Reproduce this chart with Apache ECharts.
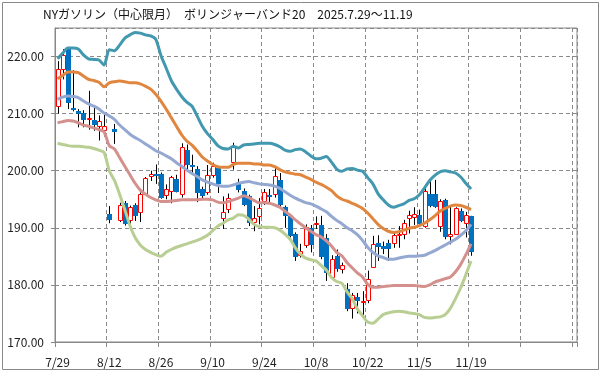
<!DOCTYPE html>
<html><head><meta charset="utf-8">
<script src="https://cdn.jsdelivr.net/npm/echarts@6/dist/echarts.min.js"></script>
<style>html,body{margin:0;padding:0;background:#fff}#c{width:599px;height:370px}</style>
</head><body><div id="c"></div>
<script>
const titleText = 'NYガソリン（中心限月）　ボリンジャーバンド20　2025.7.29～11.19';
const dates = ['7/29','7/30','7/31','8/1','8/4','8/5','8/6','8/7','8/8','8/11',
'8/12','8/13','8/14','8/15','8/18','8/19','8/20','8/21','8/22','8/25',
'8/26','8/27','8/28','8/29','9/2','9/3','9/4','9/5','9/8','9/9',
'9/10','9/11','9/12','9/15','9/16','9/17','9/18','9/19','9/22','9/23',
'9/24','9/25','9/26','9/29','9/30','10/1','10/2','10/3','10/6','10/7',
'10/8','10/9','10/10','10/13','10/14','10/15','10/16','10/17','10/20','10/21',
'10/22','10/23','10/24','10/27','10/28','10/29','10/30','10/31','11/3','11/4',
'11/5','11/6','11/7','11/10','11/11','11/12','11/13','11/14','11/17','11/18','11/19'];
const open = [211.3,217.9,221.3,211.0,210.5,210.1,209.0,208.9,207.8,207.2,192.5,207.3,191.3,194.4,191.4,194.0,192.7,196.0,199.0,199.4,199.5,195.8,196.4,198.6,195.9,203.7,201.0,200.3,196.8,196.3,199.3,200.4,191.8,193.3,201.5,197.8,196.5,195.6,191.0,192.0,194.7,195.7,195.9,198.3,193.6,192.1,188.9,185.2,187.0,189.9,190.6,190.5,188.3,181.3,185.1,182.7,179.2,175.9,177.8,177.0,177.3,183.2,187.4,186.9,187.4,187.4,188.7,189.0,191.8,191.9,192.2,190.3,195.9,195.9,190.3,194.9,188.5,189.0,193.0,190.8,192.1];
const close = [217.9,220.3,212.0,210.8,210.1,209.0,209.3,208.1,208.7,207.8,191.6,207.0,194.0,190.9,193.6,192.3,196.0,198.7,199.4,199.2,195.4,196.8,198.9,196.5,204.2,201.1,200.8,196.3,195.7,199.3,200.8,197.8,192.8,195.2,204.2,196.8,194.2,191.0,191.8,193.5,196.3,195.5,199.0,194.1,192.3,188.8,185.1,186.0,190.2,187.1,190.9,185.1,182.3,184.5,182.9,183.4,175.9,178.2,177.4,177.2,181.0,187.2,186.9,186.5,186.4,188.7,189.0,190.9,192.3,192.4,190.8,196.5,194.0,193.9,194.7,188.5,188.9,193.4,191.4,192.2,185.9];
const high = [219.2,221.3,221.6,217.6,210.8,210.6,214.0,211.5,209.7,209.9,193.8,208.2,194.4,194.7,193.9,194.3,196.2,198.9,200.0,201.1,199.7,197.6,199.1,199.3,204.8,204.6,202.8,200.8,197.2,201.0,201.4,200.6,195.5,196.0,204.9,198.6,196.9,195.8,193.8,195.2,196.8,196.8,200.6,199.6,193.9,192.4,189.2,187.2,190.6,190.5,192.0,192.1,188.9,185.2,186.2,183.9,180.3,178.6,178.6,178.9,182.5,188.6,188.7,187.6,187.9,189.4,190.3,191.4,193.0,193.6,193.2,197.4,198.7,198.4,195.0,195.1,193.8,193.6,193.4,192.8,192.1];
const low = [210.0,216.0,210.8,210.4,207.6,207.6,207.2,207.0,205.3,206.0,190.8,204.7,191.0,190.4,189.6,191.2,191.0,195.9,198.2,197.7,195.1,195.0,194.3,196.2,195.3,200.0,199.4,194.5,195.0,195.8,198.8,196.1,189.8,192.6,200.2,196.2,193.8,190.3,189.4,190.6,194.0,194.3,195.3,193.7,190.0,188.3,184.2,184.8,186.5,185.7,189.8,184.5,180.7,181.1,182.3,182.0,175.4,174.1,175.0,174.5,176.8,183.0,184.2,185.4,184.2,186.5,186.5,188.0,189.0,190.5,190.2,190.0,193.6,193.5,189.3,188.0,187.1,188.8,191.0,188.3,185.1];
const upper2 = [219.6,220.6,221.5,221.5,221.3,220.3,219.6,219.5,219.4,218.5,221.2,221.0,222.0,223.2,223.8,224.2,224.1,223.8,223.6,223.0,220.2,218.0,215.8,214.3,213.0,212.0,211.3,209.6,207.8,206.5,205.5,204.4,203.9,203.8,204.3,204.0,204.5,204.6,204.7,204.8,204.8,204.8,204.6,204.2,203.6,203.4,203.7,203.8,203.3,202.6,202.1,202.2,202.5,201.5,200.3,199.9,200.3,200.4,200.1,199.9,198.8,197.7,196.0,194.9,194.0,193.6,193.9,194.2,194.8,195.1,195.8,197.0,198.3,199.2,199.8,200.0,199.8,199.6,198.9,197.8,196.8];
const upper1 = [216.1,216.7,217.3,217.3,217.2,216.6,216.0,215.8,215.5,214.7,215.4,215.6,215.7,215.6,215.4,215.4,215.2,214.8,214.3,213.4,212.2,210.8,209.3,207.8,206.3,205.2,204.5,203.5,202.4,201.7,201.1,200.7,200.6,200.6,201.1,201.3,201.3,201.3,201.2,201.2,201.0,201.0,200.7,200.2,199.8,199.6,199.4,199.3,198.9,198.5,198.0,197.6,197.1,196.5,195.6,195.0,194.7,194.3,193.9,193.4,192.6,191.6,190.6,189.9,189.4,189.2,189.3,189.6,189.9,190.1,190.4,190.8,191.4,192.1,192.9,193.4,193.8,194.0,193.9,193.6,193.2];
const ma20 = [212.5,212.9,213.1,213.0,212.8,212.2,211.7,211.3,210.8,210.1,209.6,209.0,208.0,207.2,206.4,205.8,205.3,204.7,204.1,203.5,203.1,202.6,202.1,201.4,200.8,200.1,199.5,199.0,198.4,198.0,197.7,197.4,197.3,197.3,197.5,197.8,198.0,198.1,197.9,197.7,197.6,197.5,197.3,196.9,196.3,195.7,195.2,194.8,194.4,194.2,193.8,193.3,192.8,192.0,191.3,190.7,190.0,189.5,188.8,187.8,186.6,185.7,185.1,184.8,184.5,184.5,184.7,184.9,185.0,185.0,185.1,185.2,185.6,186.0,186.5,187.0,187.5,188.0,188.7,189.5,190.6];
const lower1 = [208.4,208.6,208.8,208.7,208.4,208.0,207.8,207.5,207.2,206.8,204.4,203.8,202.3,200.8,199.3,197.8,196.6,195.9,195.3,194.9,194.6,194.6,194.7,194.8,194.9,194.9,194.9,194.9,195.0,195.0,194.9,194.5,194.4,194.6,194.9,195.2,195.6,195.3,194.8,194.4,194.4,194.3,194.0,193.6,192.9,192.2,191.4,190.7,190.0,189.4,188.8,188.4,187.7,186.8,185.7,185.1,183.9,183.0,182.1,181.4,180.1,179.6,179.6,179.7,179.8,179.9,179.9,179.9,179.9,179.9,179.8,179.7,180.0,180.5,180.8,181.1,181.4,182.3,183.6,185.3,187.2];
const lower2 = [204.8,204.6,204.4,204.3,204.3,204.2,204.1,203.9,203.6,203.2,200.0,198.3,195.9,193.2,190.4,188.3,187.0,186.2,185.7,185.3,185.0,185.7,186.2,186.6,186.9,187.2,187.5,187.8,188.2,188.7,189.5,190.3,190.8,191.4,191.7,192.3,192.2,191.5,190.6,190.2,190.1,190.1,190.0,189.6,188.9,188.0,186.5,185.4,184.7,184.4,184.2,183.4,182.6,181.3,180.6,180.3,178.8,177.6,175.8,174.6,173.5,173.3,174.0,174.8,175.1,175.3,175.4,175.3,175.1,175.0,174.8,174.3,174.2,174.3,174.4,174.8,175.9,177.6,179.5,181.8,184.2];
const yMin = 170, yMax = 225, yStep = 10;
const totalSlots = 101;

const categories = dates.slice();
for (let k = dates.length; k < totalSlots; k++) categories.push('_' + k);

const candleData = open.map((o, i) => [i, o, close[i], low[i], high[i]]);

function renderCandle(params, api) {
  const i = api.value(0), o = api.value(1), c = api.value(2), l = api.value(3), h = api.value(4);
  const pH = api.coord([i, h]), pL = api.coord([i, l]);
  const pO = api.coord([i, o]), pC = api.coord([i, c]);
  const x = Math.round(pH[0]);
  const top = Math.round(Math.min(pO[1], pC[1]));
  const bot = Math.round(Math.max(pO[1], pC[1]));
  const children = [{
    type: 'line',
    shape: { x1: x + 0.5, y1: pH[1], x2: x + 0.5, y2: pL[1] },
    style: { stroke: '#000', lineWidth: 1 }
  }];
  if (c >= o) {
    children.push({ type: 'rect', shape: { x: x - 1.5, y: top + 0.5, width: 4, height: Math.max(1, bot - top) },
      style: { fill: '#fff', stroke: '#FF0000', lineWidth: 1 } });
  } else {
    children.push({ type: 'rect', shape: { x: x - 2, y: top, width: 5, height: Math.max(1, bot - top + 1) },
      style: { fill: '#0070C0' } });
  }
  return { type: 'group', children };
}

const font = '"Noto Sans CJK JP", "Noto Sans", sans-serif';
function band(data, color) {
  return { type: 'line', data, symbol: 'none', smooth: 0.25, z: 3,
    lineStyle: { color, width: 3 }, itemStyle: { color }, silent: true };
}

const chart = echarts.init(document.getElementById('c'), null, { renderer: 'canvas' });
chart.setOption({
  animation: false,
  backgroundColor: '#fff',
  grid: { left: 55, top: 28, right: 22, bottom: 28, show: true, borderColor: '#888', borderWidth: 1, backgroundColor: 'transparent' },
  graphic: [
    { type: 'rect', left: 0, top: 0, shape: { x: 0.5, y: 0.5, width: 596, height: 367 }, style: { fill: 'none', stroke: '#888', lineWidth: 1 }, z: 10 },
    { type: 'text', left: 43, top: 8, style: { text: titleText, font: '12px ' + font, fill: '#111' }, z: 10 }
  ],
  xAxis: {
    type: 'category', data: categories, boundaryGap: true,
    axisLine: { lineStyle: { color: '#888' } },
    axisTick: { show: true, interval: 9, length: 5, lineStyle: { color: '#888' } },
    axisLabel: { interval: 9, margin: 14, color: '#222', fontSize: 12, fontFamily: font,
      formatter: v => (v.charAt(0) === '_' ? '' : v) },
    splitLine: { show: true, interval: 9, lineStyle: { color: '#8a8a8a', type: [4, 3], width: 1 } }
  },
  yAxis: {
    type: 'value', min: yMin, max: yMax, interval: yStep,
    axisLine: { show: true, lineStyle: { color: '#888' } },
    axisTick: { show: true, length: 4, lineStyle: { color: '#888' } },
    axisLabel: { margin: 11, color: '#222', fontSize: 12, fontFamily: font, showMaxLabel: false,
      formatter: v => (v % yStep === 0 ? v.toFixed(2) : '') },
    splitLine: { show: true, lineStyle: { color: '#8a8a8a', type: [4, 3], width: 1 } }
  },
  series: [
    { type: 'custom', renderItem: renderCandle, data: candleData, z: 2,
      encode: { x: 0, y: [1, 2, 3, 4] }, silent: true },
    band(lower2, '#B8CE92'),
    band(lower1, '#D3908D'),
    band(ma20, '#94A8D2'),
    band(upper1, '#E0863E'),
    band(upper2, '#4198AF')
  ]
});
</script></body></html>
